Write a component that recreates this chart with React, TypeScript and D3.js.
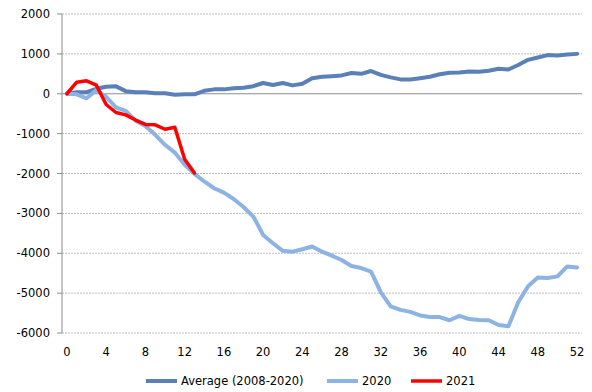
import React from "react";
import * as d3 from "d3";

const weeks: number[] = d3.range(0, 53);
const average: number[] = [0, 40, 40, 125, 175, 185, 65, 35, 35, 15, 10, -25, -10, -15, 75, 110, 110, 140, 150, 190, 270, 220, 270, 210, 250, 390, 425, 440, 460, 520, 500, 570, 475, 410, 360, 360, 390, 425, 490, 525, 535, 560, 550, 575, 625, 610, 720, 850, 910, 970, 960, 985, 1000];
const y2020: number[] = [0, -15, -115, 90, -75, -340, -430, -675, -810, -1030, -1280, -1475, -1780, -2010, -2200, -2370, -2480, -2640, -2840, -3080, -3540, -3750, -3940, -3960, -3900, -3830, -3960, -4060, -4170, -4320, -4370, -4460, -4980, -5330, -5420, -5470, -5560, -5600, -5600, -5680, -5570, -5650, -5675, -5680, -5800, -5830, -5230, -4830, -4610, -4620, -4580, -4330, -4360];
const y2021: number[] = [0, 290, 325, 215, -270, -470, -530, -660, -770, -780, -890, -840, -1640, -1990];
const yTicks: number[] = [2000, 1000, 0, -1000, -2000, -3000, -4000, -5000, -6000];
const xTicks: number[] = [0, 4, 8, 12, 16, 20, 24, 28, 32, 36, 40, 44, 48, 52];
const seriesNames: string[] = ["Average (2008-2020)", "2020", "2021"];

const W = 592, H = 392;
const left = 62, right = 582, top = 14, bottom = 333;
const font = "'DejaVu Sans', Verdana, sans-serif";

export default function App() {
  const x = d3.scaleLinear().domain([-0.5, 52.5]).range([left, right]);
  const y = d3.scaleLinear().domain([-6000, 2000]).range([bottom, top]);
  const line = d3.line<number>().x((_, i) => x(weeks[i])).y((d) => y(d));
  const series = [
    { name: seriesNames[0], data: average, color: "#5b80b8", width: 4 },
    { name: seriesNames[1], data: y2020, color: "#8cb3e3", width: 4 },
    { name: seriesNames[2], data: y2021, color: "#ff0000", width: 3.5 },
  ];
  const legendX = [146, 327, 411];
  return (
    <svg width={W} height={H} style={{ position: "absolute", left: 0, top: 0, background: "#fff" }}>
      {yTicks.map((t) => (
        <g key={t}>
          {t !== 0 && (
            <line x1={left} x2={right} y1={y(t)} y2={y(t)} stroke="#bdbdbd" strokeWidth={1} strokeDasharray="2,1" />
          )}
          <line x1={left - 5} x2={left} y1={y(t)} y2={y(t)} stroke="#8c8c8c" strokeWidth={1} />
          <text x={50} y={y(t)} dy="0.35em" textAnchor="end" fontFamily={font} fontSize={11.5} fill="#000">
            {t}
          </text>
        </g>
      ))}
      <line x1={left} x2={left} y1={top} y2={bottom} stroke="#8c8c8c" strokeWidth={1} />
      <line x1={left} x2={right} y1={y(0)} y2={y(0)} stroke="#8c8c8c" strokeWidth={1} />
      {xTicks.map((t) => (
        <text key={t} x={x(t)} y={352} dy="0.35em" textAnchor="middle" fontFamily={font} fontSize={11.5} fill="#000">
          {t}
        </text>
      ))}
      {series.map((s) => (
        <path key={s.name} d={line(s.data) || ""} fill="none" stroke={s.color} strokeWidth={s.width} strokeLinejoin="round" strokeLinecap="round" />
      ))}
      {series.map((s, i) => (
        <g key={s.name}>
          <line x1={legendX[i]} x2={legendX[i] + 31} y1={381} y2={381} stroke={s.color} strokeWidth={s.width} />
          <text x={legendX[i] + 35} y={381} dy="0.35em" fontFamily={font} fontSize={11.5} fill="#000">
            {s.name}
          </text>
        </g>
      ))}
    </svg>
  );
}
